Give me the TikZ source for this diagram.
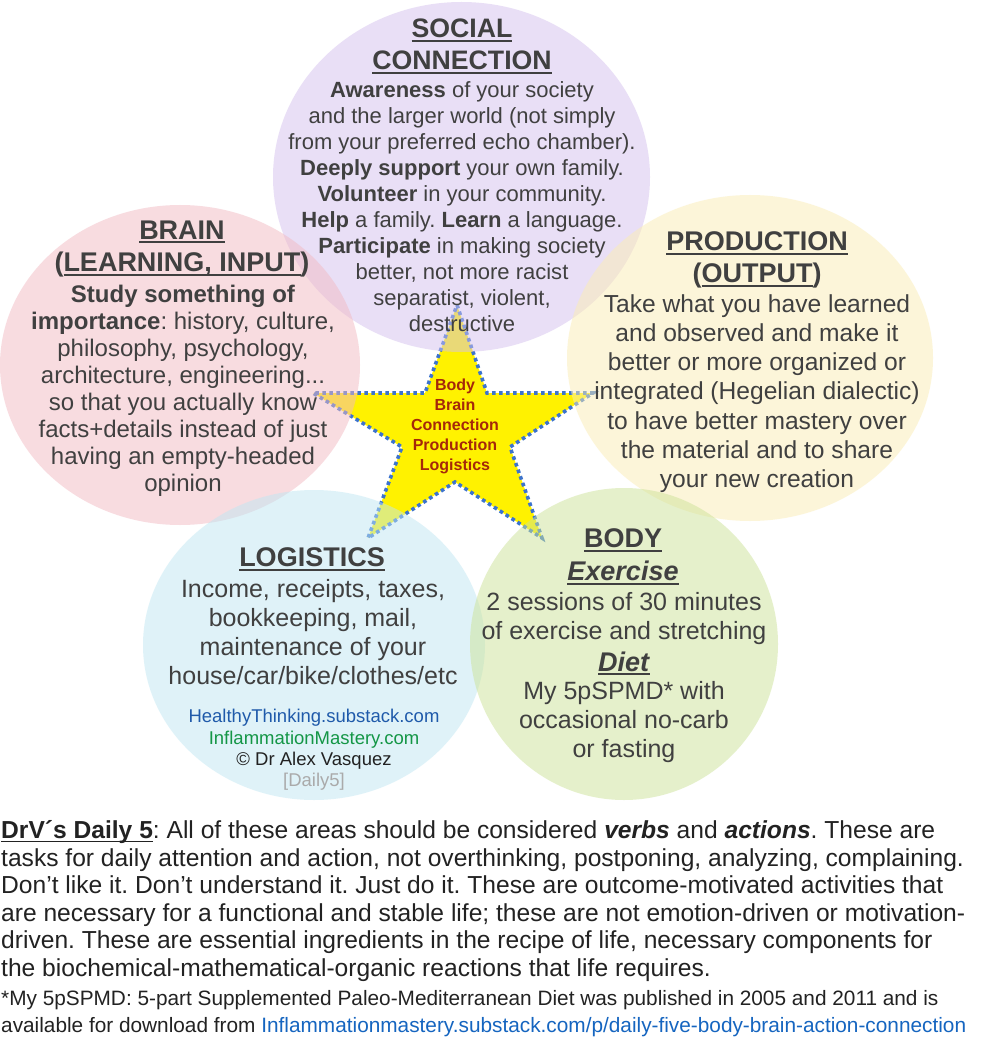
\documentclass[tikz,border=0pt]{standalone}
\usepackage{fontspec}
\setmainfont{Liberation Sans}
\frenchspacing
\definecolor{purpleC}{RGB}{213,193,238}
\definecolor{pinkC}{RGB}{242,186,195}
\definecolor{yellowC}{RGB}{251,237,180}
\definecolor{cyanC}{RGB}{192,231,243}
\definecolor{greenC}{RGB}{205,227,152}
\definecolor{tgray}{RGB}{64,64,64}
\definecolor{ptext}{RGB}{34,34,34}
\definecolor{starblue}{RGB}{60,115,205}
\definecolor{starred}{RGB}{165,40,10}
\definecolor{urlblue}{RGB}{31,90,170}
\definecolor{urlgreen}{RGB}{20,150,70}
\definecolor{linkblue}{RGB}{21,101,192}
\definecolor{dailygray}{RGB}{170,170,170}
\newcommand\myul[1]{\setbox0\hbox{#1}\leavevmode\rlap{\rule[-0.16em]{\wd0}{0.075em}}\box0}
\begin{document}
\begin{tikzpicture}[x=1pt,y=-1pt,
  txt/.style={inner sep=0pt, text=tgray, align=center, anchor=north},
  hd/.style={txt, font=\fontsize{27}{32.5}\selectfont\bfseries},
  bigbody/.style={txt, font=\fontsize{25}{29.2}\selectfont},
  starline/.style={fill=yellow, draw=starblue, line width=3.6pt, dash pattern=on 3.6pt off 3.4pt},
  blob/.style={fill opacity=0.5}]
\fill[white] (0,0) rectangle (980,1040);
\useasboundingbox (0,0) rectangle (980,1040);
% star
\coordinate (p1) at (457,305);
\coordinate (q1) at (487,393);
\coordinate (p2) at (593,393);
\coordinate (q2) at (510,447);
\coordinate (p3) at (542,538);
\coordinate (q3) at (455,482);
\coordinate (p4) at (368,538);
\coordinate (q4) at (402,447);
\coordinate (p5) at (313,393);
\coordinate (q5) at (425,393);
\filldraw[starline] (p1)--(q1)--(p2)--(q2)--(p3)--(q3)--(p4)--(q4)--(p5)--(q5)--cycle;
% circles
\begin{scope}[blob]
\fill[purpleC] (461.5,177) ellipse [x radius=188.5, y radius=175];
\fill[pinkC] (180,365) ellipse [x radius=180, y radius=160];
\fill[yellowC] (750,358) ellipse [x radius=183, y radius=163];
\fill[cyanC] (314,645) ellipse [x radius=171, y radius=155];
\fill[greenC] (624,644) ellipse [x radius=154, y radius=156];
\end{scope}
% star text
\node[txt, text=starred, font=\fontsize{16}{20}\selectfont\bfseries] (startext) at (455,379.2)
  {Body\\Brain\\Connection\\Production\\Logistics};
% social
\node[hd, font=\fontsize{26.7}{32}\selectfont\bfseries] (socialhd) at (462,18.4) {\myul{SOCIAL}\\\myul{CONNECTION}};
\node[txt, font=\fontsize{22}{26}\selectfont] (socialbody) at (462,81)
  {\textbf{Awareness} of your society\\
   and the larger world (not simply\\
   from your preferred echo chamber).\\
   \textbf{Deeply support} your own family.\\
   \textbf{Volunteer} in your community.\\
   \textbf{Help} a family. \textbf{Learn} a language.\\
   \textbf{Participate} in making society\\
   better, not more racist\\
   separatist, violent,\\
   destructive};
% brain
\node[hd] (brainhd) at (182,220.3) {\myul{BRAIN}\\(\myul{LEARNING, INPUT})};
\node[txt, font=\fontsize{24}{26.9}\selectfont] (brainbody) at (183,285.4)
  {\textbf{Study something of}\\
   \textbf{importance}: history, culture,\\
   philosophy, psychology,\\
   architecture, engineering...\\
   so that you actually know\\
   facts+details instead of just\\
   having an empty-headed\\
   opinion};
% production
\node[hd] (prodhd) at (757,231.3) {\myul{PRODUCTION}\\(\myul{OUTPUT})};
\node[txt, font=\fontsize{24.6}{29.2}\selectfont] (prodbody) at (757,294.2)
  {Take what you have learned\\
   and observed and make it\\
   better or more organized or\\
   integrated (Hegelian dialectic)\\
   to have better mastery over\\
   the material and to share\\
   your new creation};
% logistics
\node[hd] (loghd) at (312,547.3) {\myul{LOGISTICS}};
\node[bigbody] (logbody) at (313,579)
  {Income, receipts, taxes,\\
   bookkeeping, mail,\\
   maintenance of your\\
   house/car/bike/clothes/etc};
\node[txt, font=\fontsize{18.5}{21.3}\selectfont] (urls) at (314,709.3)
  {\textcolor{urlblue}{HealthyThinking.substack.com}\\
   \textcolor{urlgreen}{InflammationMastery.com}\\
   \textcolor{ptext}{© Dr Alex Vasquez}\\
   \textcolor{dailygray}{[Daily5]}};
% body
\node[hd, font=\fontsize{27}{33}\selectfont\bfseries] (bodyhd) at (623,528.3) {\myul{BODY}\\\myul{\textit{Exercise}}};
\node[bigbody] (bodyA) at (624,592) {2 sessions of 30 minutes\\of exercise and stretching};
\node[hd] (diethd) at (624,651.3) {\myul{\textit{Diet}}};
\node[bigbody] (bodyB) at (624,681) {My 5pSPMD* with\\occasional no-carb\\or fasting};
% paragraph
\node[inner sep=0pt, anchor=north west, align=left, text=ptext, font=\fontsize{24.6}{27.6}\selectfont] (para) at (1,820.3)
  {\myul{\textbf{DrV´s Daily 5}}: All of these areas should be considered \textbf{\textit{verbs}} and \textbf{\textit{actions}}. These are\\
   tasks for daily attention and action, not overthinking, postponing, analyzing, complaining.\\
   Don’t like it. Don’t understand it. Just do it. These are outcome-motivated activities that\\
   are necessary for a functional and stable life; these are not emotion-driven or motivation-\\
   driven. These are essential ingredients in the recipe of life, necessary components for\\
   the biochemical-mathematical-organic reactions that life requires.};
\node[inner sep=0pt, anchor=north west, align=left, text=ptext, font=\fontsize{20.8}{27}\selectfont] (foot) at (1,990.5)
  {*My 5pSPMD: 5-part Supplemented Paleo-Mediterranean Diet was published in 2005 and 2011 and is\\
   available for download from \textcolor{linkblue}{Inflammationmastery.substack.com/p/daily-five-body-brain-action-connection}};
\end{tikzpicture}
\end{document}
